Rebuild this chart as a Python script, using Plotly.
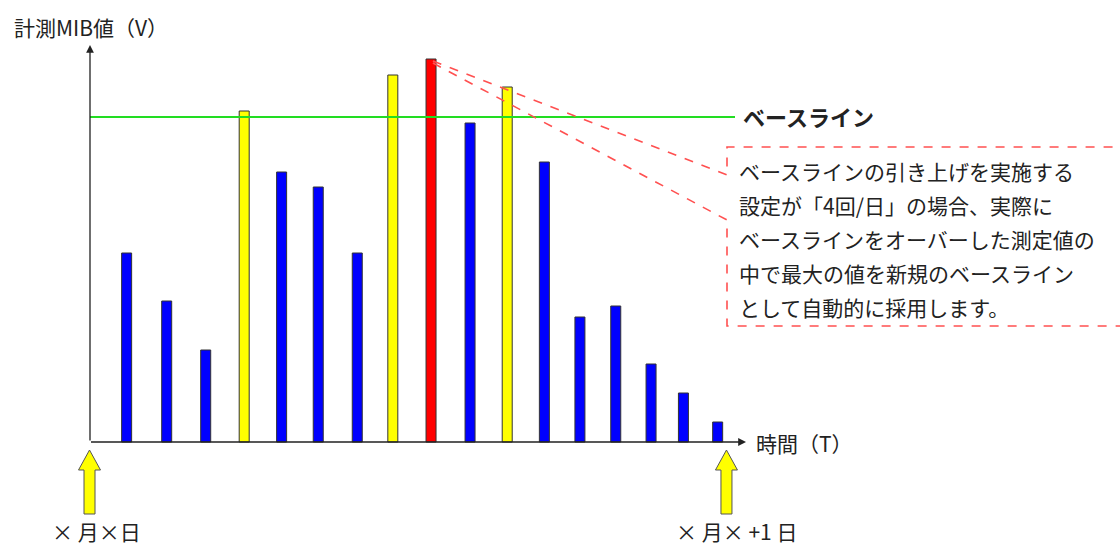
import plotly.graph_objects as go

# ---- data ----
# measurement times (hours after the start of the day) and measured MIB values
times = [1.38, 2.89, 4.36, 5.81, 7.22, 8.60, 10.07, 11.41, 12.85,
         14.32, 15.72, 17.12, 18.46, 19.81, 21.14, 22.36, 23.65]
values = [189, 141, 92, 331, 270, 255, 189, 367, 383, 319, 355, 280, 125, 136, 78, 49, 20]
kinds = ["n", "n", "n", "o", "n", "n", "n", "o", "m", "n", "o", "n", "n", "n", "n", "n", "n"]
baseline = 325
day_start, day_end = 0, 24
y_label = "計測MIB値（V）"
x_label = "時間（T）"
baseline_label = "ベースライン"
start_label = "× 月×日"
end_label = "× 月× +1 日"
note_lines = [
    "ベースラインの引き上げを実施する",
    "設定が「4回/日」の場合、実際に",
    "ベースラインをオーバーした測定値の",
    "中で最大の値を新規のベースライン",
    "として自動的に採用します。",
]

color_map = {"n": "#0000FF", "o": "#FFFF00", "m": "#FF0000"}

W, H = 1120, 547
X0PX, PXH = 90.0, 26.54     # pixel of hour 0, pixels per hour
Y0PX = 442.0                # pixel of value 0 (1 unit per pixel)


def X(px):
    return (px - X0PX) / PXH


def Y(py):
    return Y0PX - py


FONT = "Noto Sans CJK JP"

fig = go.Figure()
fig.add_trace(go.Bar(
    x=times, y=values, width=10 / PXH,
    marker=dict(color=[color_map[k] for k in kinds],
                line=dict(color="#333333", width=1)),
    hoverinfo="skip",
))

shapes = []
annotations = []

# baseline
shapes.append(dict(type="line", xref="x", yref="y", x0=day_start, x1=X(735),
                   y0=baseline, y1=baseline, line=dict(color="#22DD22", width=2)))

# axes with arrows
annotations.append(dict(x=day_start, y=Y(45), ax=day_start, ay=0, xref="x", yref="y",
                        axref="x", ayref="y", showarrow=True, arrowhead=2,
                        arrowsize=1.2, arrowwidth=1.3, arrowcolor="#222", text=""))
annotations.append(dict(x=X(746), y=0, ax=X(89.5), ay=0, xref="x", yref="y",
                        axref="x", ayref="y", showarrow=True, arrowhead=2,
                        arrowsize=1.2, arrowwidth=1.3, arrowcolor="#222", text=""))

# callout dashed lines from the max bar
mi = values.index(max(values))
sx, sy = times[mi] + 0.07, values[mi] - 2
bx = X(727)
path = (f"M {sx},{sy} L {bx},{Y(175)} L {bx},{Y(147)} L {X(1130)},{Y(147)} "
        f"M {sx},{sy - 2} L {bx},{Y(220)} L {bx},{Y(326)} L {X(1130)},{Y(326)}")
shapes.append(dict(type="path", xref="x", yref="y", path=path,
                   line=dict(color="#FF5050", width=1.6, dash="dash")))

# block arrows under the axis, at the start and end of the day
def block_arrow(t):
    cx = X0PX + t * PXH - 0.5
    p = [(cx, Y(450)), (cx + 11, Y(470)), (cx + 5.5, Y(470)), (cx + 5.5, Y(514)),
         (cx - 5.5, Y(514)), (cx - 5.5, Y(470)), (cx - 11, Y(470))]
    pts = [(X(px), y) for px, y in p]
    d = "M " + " L ".join(f"{a},{b}" for a, b in pts) + " Z"
    return dict(type="path", xref="x", yref="y", path=d, fillcolor="#FFFF00",
                line=dict(color="#555555", width=1))

shapes.append(block_arrow(day_start))
shapes.append(block_arrow(day_end))

# texts
annotations.append(dict(x=X(12), y=Y(27), text=y_label, showarrow=False,
                        xanchor="left", yanchor="middle",
                        font=dict(family=FONT, size=21, color="#222")))
annotations.append(dict(x=X(754), y=Y(443), text=x_label, showarrow=False,
                        xanchor="left", yanchor="middle",
                        font=dict(family=FONT, size=21, color="#222")))
annotations.append(dict(x=X(741), y=Y(116), text=f"<b>{baseline_label}</b>", showarrow=False,
                        xanchor="left", yanchor="middle",
                        font=dict(family=FONT, size=22, color="#222")))
annotations.append(dict(x=X(96), y=Y(531), text=start_label, showarrow=False,
                        xanchor="center", yanchor="middle",
                        font=dict(family=FONT, size=21, color="#222")))
annotations.append(dict(x=X(736), y=Y(531), text=end_label, showarrow=False,
                        xanchor="center", yanchor="middle",
                        font=dict(family=FONT, size=21, color="#222")))
for k, line in enumerate(note_lines):
    annotations.append(dict(x=X(737), y=Y(171 + k * 34), text=line, showarrow=False,
                            xanchor="left", yanchor="middle",
                            font=dict(family=FONT, size=21, color="#222")))

fig.update_layout(
    width=W, height=H, margin=dict(l=0, r=0, t=0, b=0),
    plot_bgcolor="white", paper_bgcolor="white", showlegend=False,
    xaxis=dict(range=[X(0), X(W)], visible=False, fixedrange=True),
    yaxis=dict(range=[Y(H), Y(0)], visible=False, fixedrange=True),
    shapes=shapes, annotations=annotations,
)

fig.write_html("out.html", config={"displayModeBar": False},
               post_script="document.body.style.margin='0';document.body.style.overflow='hidden';")
